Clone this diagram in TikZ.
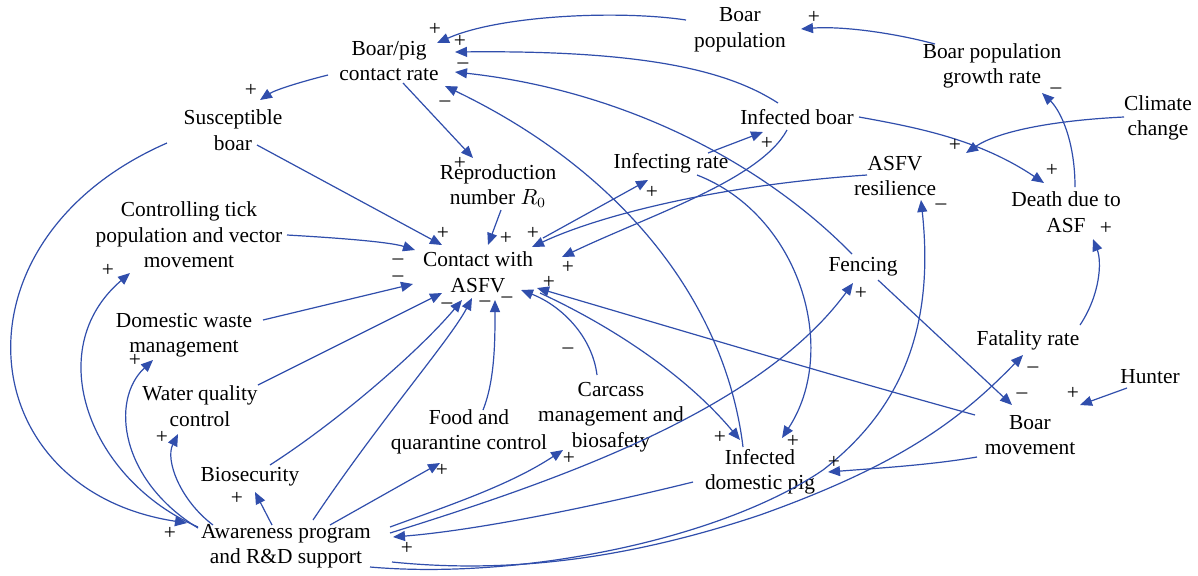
\documentclass[tikz,border=0pt]{standalone}
\usepackage{fontspec}
\setmainfont{Liberation Serif}
\usetikzlibrary{arrows.meta,calc}
\definecolor{linkblue}{RGB}{48,78,172}
\begin{document}
\begin{tikzpicture}[x=0.5pt,y=-0.5pt,
  var/.style={font=\fontsize{10.7}{12.75}\selectfont, align=center, inner sep=0pt},
  link/.style={draw=linkblue, line width=0.6pt, -{Triangle[length=6pt,width=5pt]}},
  sgn/.style={font=\fontsize{10.7}{12}\selectfont, inner sep=0pt},
  neg/.style={sgn, yshift=-2pt}]
\fill[white] (0,0) rectangle (1198,575);
\useasboundingbox (0,0) rectangle (1198,575);
% variables
\node[var] (bpcr) at (389,61) {Boar/pig\\contact rate};
\node[var] (bpop) at (740,30) {Boar\\population};
\node[var] (bpgr) at (992,66) {Boar population\\growth rate};
\node[var] (climate) at (1158,118) {Climate\\change};
\node[var] (infb) at (797,117) {Infected boar};
\node[var] (infr) at (671,163) {Infecting rate};
\node[var] (asfvr) at (895,176) {ASFV\\resilience};
\node[var] (susc) at (233,130) {Susceptible\\boar};
\node[var] (r0) at (498,186) {Reproduction\\number $R_0$};
\node[var] (ctrl) at (189,235) {Controlling tick\\population and vector\\movement};
\node[var] (contact) at (478,272) {Contact with\\ASFV};
\node[var] (dwm) at (184,335) {Domestic waste\\management};
\node[var] (wqc) at (200,406) {Water quality\\control};
\node[var] (bios) at (250,477) {Biosecurity};
\node[var] (food) at (469,432) {Food and\\quarantine control};
\node[var] (carc) at (611,417) {Carcass\\management and\\biosafety};
\node[var] (infdp) at (760,472) {Infected\\domestic pig};
\node[var] (aware) at (286,546) {Awareness program\\and R\&D support};
\node[var] (fencing) at (863,267) {Fencing};
\node[var] (death) at (1066,212) {Death due to\\ASF};
\node[var] (fatal) at (1028,340) {Fatality rate};
\node[var] (hunter) at (1150,377) {Hunter};
\node[var] (bmov) at (1030,435) {Boar\\movement};
\coordinate (cctip) at (966,153);
% links
\draw[link] ($(bpop)+(-54,-10)$) .. controls (620,10) and (500,15) .. ($(bpcr)+(48,-18)$);
\draw[link] ($(infb)+(-19,-14)$) .. controls (730,72) and (650,50) .. ($(bpcr)+(66,-9)$);
\draw[link] ($(fencing)+(-11,-13)$) .. controls (760,160) and (620,90) .. ($(bpcr)+(66,11)$);
\draw[link] ($(infdp)+(-17,-25)$) .. controls (725,300) and (620,170) .. ($(bpcr)+(56,25)$);
\draw[link] ($(bpcr)+(-61,14)$) .. controls (300,82) and (275,90) .. ($(susc)+(27,-30)$);
\draw[link] ($(bpcr)+(14,22)$) -- ($(r0)+(-25,-28)$);
\draw[link] ($(susc)+(24,15)$) -- ($(contact)+(-36,-27)$);
\draw[link] ($(susc)+(-66,13)$) .. controls (-55,240) and (-30,490) .. ($(aware)+(-99,-23)$);
\draw[link] ($(aware)+(-88,-19)$) .. controls (90,480) and (40,350) .. ($(ctrl)+(-59,38)$);
\draw[link] ($(aware)+(-88,-18)$) .. controls (120,480) and (110,400) .. ($(dwm)+(-31,25)$);
\draw[link] ($(aware)+(-73,-21)$) .. controls (180,500) and (165,460) .. ($(wqc)+(-22,28)$);
\draw[link] ($(aware)+(-14,-21)$) -- ($(bios)+(5,15)$);
\draw[link] ($(aware)+(27,-26)$) .. controls (380,420) and (450,340) .. ($(contact)+(-6,26)$);
\draw[link] ($(bios)+(20,-12)$) .. controls (340,420) and (420,350) .. ($(contact)+(-16,28)$);
\draw[link] ($(wqc)+(58,-21)$) -- ($(contact)+(-36,21)$);
\draw[link] ($(dwm)+(79,-15)$) -- ($(contact)+(-65,12)$);
\draw[link] ($(ctrl)+(98,0)$) .. controls (340,238) and (390,242) .. ($(contact)+(-63,-22)$);
\draw[link] ($(r0)+(3,24)$) -- ($(contact)+(10,-27)$);
\draw[link] ($(food)+(14,-22)$) .. controls (495,380) and (495,340) .. ($(contact)+(17,28)$);
\draw[link] ($(carc)+(-14,-42)$) .. controls (592,335) and (560,305) .. ($(contact)+(43,18)$);
\draw[link] ($(bmov)+(-55,-20)$) .. controls (830,375) and (680,330) .. ($(contact)+(59,16)$);
\draw[link] ($(contact)+(62,21)$) .. controls (620,330) and (690,380) .. ($(infdp)+(-20,-32)$);
\draw[link] ($(contact)+(65,-34)$) -- ($(infr)+(-23,17)$);
\draw[link] ($(asfvr)+(-28,-1)$) .. controls (720,185) and (600,215) .. ($(contact)+(54,-25)$);
\draw[link] ($(infb)+(-10,13)$) .. controls (760,180) and (650,215) .. ($(contact)+(84,-15)$);
\draw[link] ($(infr)+(37,-10)$) -- ($(infb)+(-34,15)$);
\draw[link] ($(infr)+(26,12)$) .. controls (800,215) and (840,350) .. ($(infdp)+(22,-34)$);
\draw[link] ($(infb)+(62,0)$) .. controls (920,128) and (980,140) .. ($(death)+(-22,-29)$);
\draw[link] ($(climate)+(-34,-1)$) .. controls (1060,120) and (1000,130) .. (cctip);
\draw[link] ($(death)+(9,-25)$) .. controls (1075,140) and (1060,110) .. ($(bpgr)+(50,27)$);
\draw[link] ($(bpgr)+(-57,-22)$) .. controls (890,32) and (840,26) .. ($(bpop)+(61,-1)$);
\draw[link] ($(fatal)+(52,-15)$) .. controls (1100,295) and (1102,262) .. ($(death)+(27,27)$);
\draw[link] ($(hunter)+(-23,11)$) -- ($(bmov)+(50,-30)$);
\draw[link] ($(fencing)+(15,13)$) -- ($(bmov)+(-18,-30)$);
\draw[link] ($(bmov)+(-53,22)$) .. controls (930,465) and (880,468) .. ($(infdp)+(68,0)$);
\draw[link] ($(infdp)+(-67,10)$) .. controls (600,505) and (480,530) .. ($(aware)+(107,-9)$);
\draw[link] ($(aware)+(44,-21)$) -- ($(food)+(-29,31)$);
\draw[link] ($(aware)+(104,-19)$) .. controls (450,505) and (510,485) .. ($(carc)+(-48,33)$);
\draw[link] ($(aware)+(104,-13)$) .. controls (560,480) and (760,410) .. ($(fencing)+(-10,16)$);
\draw[link] ($(aware)+(84,21)$) .. controls (520,580) and (720,540) .. (823,470) .. controls (900,410) and (935,330) .. ($(asfvr)+(26,24)$);
\draw[link] ($(aware)+(106,16)$) .. controls (520,575) and (640,555) .. (760,515) .. controls (900,465) and (960,420) .. ($(fatal)+(-5,15)$);
% polarity signs
\node[sgn] (s1) at (435,29) {+};
\node[sgn] (s2) at (460,41) {+};
\node[neg] (s3) at (463,62) {\textendash};
\node[neg] (s4) at (445,100) {\textendash};
\node[sgn] (s5) at (251,90) {+};
\node[sgn] (s6) at (460,163) {+};
\node[sgn] (s7) at (443,233) {+};
\node[sgn] (s8) at (170,533) {+};
\node[sgn] (s9) at (108,270) {+};
\node[sgn] (s10) at (135,360) {+};
\node[sgn] (s11) at (162,437) {+};
\node[sgn] (s12) at (237,498) {+};
\node[neg] (s13) at (485,300) {\textendash};
\node[neg] (s14) at (447,302) {\textendash};
\node[neg] (s15) at (398,258) {\textendash};
\node[neg] (s16) at (398,275) {\textendash};
\node[sgn] (s17) at (506,238) {+};
\node[neg] (s18) at (507,296) {\textendash};
\node[neg] (s19) at (568,347) {\textendash};
\node[sgn] (s20) at (549,282) {+};
\node[sgn] (s21) at (720,437) {+};
\node[sgn] (s22) at (652,192) {+};
\node[sgn] (s23) at (533,233) {+};
\node[sgn] (s24) at (568,267) {+};
\node[sgn] (s25) at (767,143) {+};
\node[sgn] (s26) at (793,441) {+};
\node[sgn] (s27) at (1052,170) {+};
\node[sgn] (s28) at (955,145) {+};
\node[neg] (s29) at (1056,87) {\textendash};
\node[sgn] (s30) at (814,17) {+};
\node[sgn] (s31) at (1106,228) {+};
\node[sgn] (s32) at (1073,393) {+};
\node[neg] (s33) at (1022,392) {\textendash};
\node[sgn] (s34) at (834,462) {+};
\node[sgn] (s35) at (407,548) {+};
\node[sgn] (s36) at (442,470) {+};
\node[sgn] (s37) at (569,458) {+};
\node[sgn] (s38) at (861,293) {+};
\node[neg] (s39) at (941,203) {\textendash};
\node[neg] (s40) at (1033,366) {\textendash};
\end{tikzpicture}
\end{document}
